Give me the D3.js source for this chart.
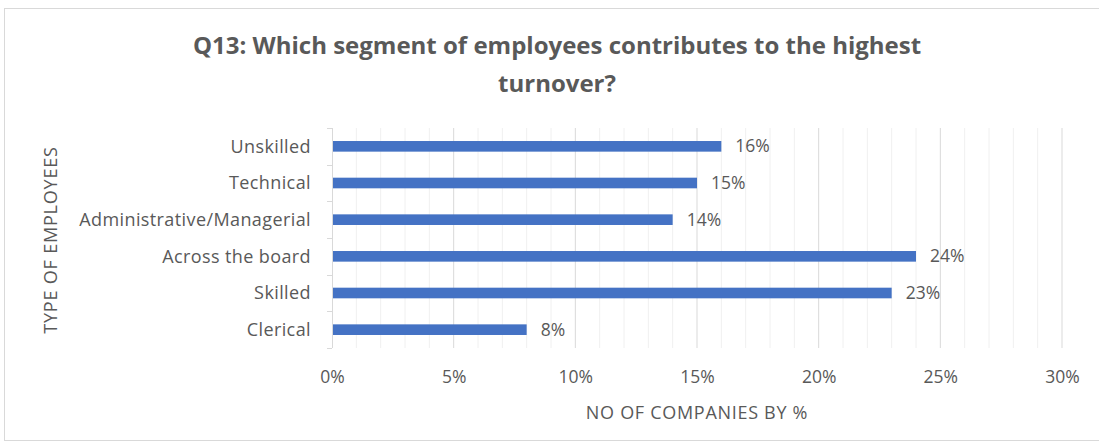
<!DOCTYPE html>
<html>
<head>
<meta charset="utf-8">
<script src="https://cdn.jsdelivr.net/npm/d3@7"></script>
<style>
  html, body { margin: 0; padding: 0; background: #fff; }
  svg { display: block; }
  text { font-family: "Open Sans", "Noto Sans", sans-serif; fill: #595959; }
</style>
</head>
<body>
<svg id="chart" width="1099" height="445"></svg>
<script>
// Employee segments (top to bottom) and share of companies (%)
const categories = ["Unskilled", "Technical", "Administrative/Managerial", "Across the board", "Skilled", "Clerical"];
const values = [16, 15, 14, 24, 23, 8];
const xTicks = [0, 5, 10, 15, 20, 25, 30];
const titleLines = ["Q13: Which segment of employees contributes to the highest", "turnover?"];
const yTitle = "TYPE OF EMPLOYEES";
const xTitle = "NO OF COMPANIES BY %";

const svg = d3.select("#chart");
const W = 1099, H = 445;
const margin = { left: 332, right: 37, top: 128, bottom: 97 };

// Chart frame
svg.append("rect")
  .attr("x", 4.5).attr("y", 8.5)
  .attr("width", W - 4).attr("height", H - 13)
  .attr("fill", "#fff").attr("stroke", "#d9d9d9");

const x = d3.scaleLinear().domain([0, 30]).range([margin.left, W - margin.right]);
const y = d3.scaleBand().domain(categories).range([margin.top, H - margin.bottom]).paddingInner(0.71).paddingOuter(0.355);
const yb = d3.scaleBand().domain(categories).range([margin.top, H - margin.bottom]);

// Minor gridlines every 1%
const g = svg.append("g");
g.selectAll("line.minor").data(d3.range(1, 31).filter(v => v % 5 !== 0)).join("line")
  .attr("class", "minor")
  .attr("x1", d => x(d)).attr("x2", d => x(d))
  .attr("y1", margin.top).attr("y2", H - margin.bottom)
  .attr("stroke", "#f0f0f0").attr("stroke-width", 1);

// Major gridlines every 5%
g.selectAll("line.major").data(xTicks.filter(v => v > 0)).join("line")
  .attr("class", "major")
  .attr("x1", d => x(d)).attr("x2", d => x(d))
  .attr("y1", margin.top).attr("y2", H - margin.bottom)
  .attr("stroke", "#d9d9d9").attr("stroke-width", 1);

// Bars
svg.selectAll("rect.bar").data(categories).join("rect")
  .attr("class", "bar")
  .attr("x", x(0))
  .attr("y", d => y(d))
  .attr("width", (d, i) => x(values[i]) - x(0))
  .attr("height", y.bandwidth())
  .attr("fill", "#4472c4");

// Value labels
svg.selectAll("text.val").data(categories).join("text")
  .attr("class", "val")
  .attr("x", (d, i) => x(values[i]) + 14)
  .attr("y", d => y(d) + y.bandwidth() / 2)
  .attr("dy", "0.35em")
  .attr("font-size", 17.5)
  .text((d, i) => values[i] + "%");

// Category axis with tick marks at band boundaries
const yAxisG = svg.append("g");
yAxisG.append("line")
  .attr("x1", x(0) + 0.5).attr("x2", x(0) + 0.5)
  .attr("y1", margin.top).attr("y2", H - margin.bottom)
  .attr("stroke", "#d9d9d9");
const bounds = categories.map(c => yb(c)).concat([H - margin.bottom]);
yAxisG.selectAll("line.tick").data(bounds).join("line")
  .attr("class", "tick")
  .attr("x1", x(0) - 5).attr("x2", x(0))
  .attr("y1", d => Math.round(d) + 0.5).attr("y2", d => Math.round(d) + 0.5)
  .attr("stroke", "#d9d9d9");
yAxisG.selectAll("text").data(categories).join("text")
  .attr("x", 311)
  .attr("y", d => yb(d) + yb.bandwidth() / 2)
  .attr("dy", "0.35em")
  .attr("text-anchor", "end")
  .attr("font-size", 18)
  .attr("letter-spacing", 0.4)
  .text(d => d);

// Value axis labels
const xAxis = d3.axisBottom(x).tickValues(xTicks).tickFormat(d => d + "%").tickSize(0).tickPadding(0);
const xg = svg.append("g").attr("transform", "translate(0, 377)").call(xAxis);
xg.select(".domain").remove();
xg.selectAll("text")
  .attr("dy", "0.35em")
  .attr("font-size", 17.5).attr("fill", "#595959")
  .attr("font-family", '"Open Sans", sans-serif');

// Axis titles
svg.append("text")
  .attr("x", x(15)).attr("y", 413)
  .attr("dy", "0.35em")
  .attr("text-anchor", "middle")
  .attr("font-size", 18)
  .attr("letter-spacing", 0.7)
  .text(xTitle);

svg.append("text")
  .attr("transform", "translate(51, 240) rotate(-90)")
  .attr("dy", "0.35em")
  .attr("text-anchor", "middle")
  .attr("font-size", 18)
  .attr("letter-spacing", 0.8)
  .text(yTitle);

// Title
svg.selectAll("text.title").data(titleLines).join("text")
  .attr("class", "title")
  .attr("x", 557).attr("y", (d, i) => 46 + i * 38)
  .attr("dy", "0.35em")
  .attr("text-anchor", "middle")
  .attr("font-size", 24)
  .attr("font-weight", "bold")
  .text(d => d);
</script>
</body>
</html>
